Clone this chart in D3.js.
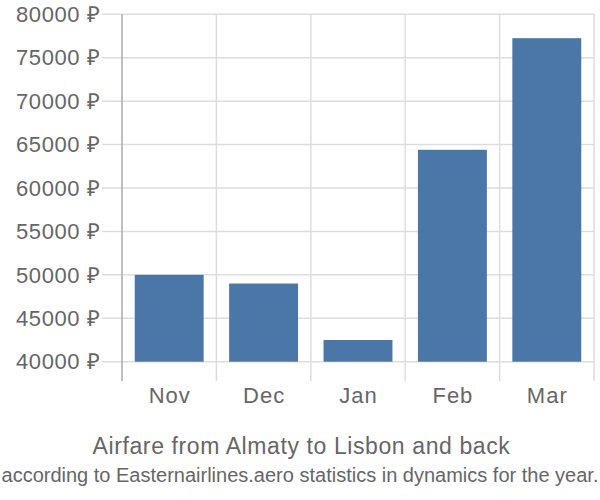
<!DOCTYPE html>
<html><head><meta charset="utf-8">
<script src="https://cdn.jsdelivr.net/npm/d3@7"></script>
<style>body{margin:0;background:#fff}svg{display:block}text{font-family:"Liberation Sans",Arial,sans-serif;fill:#666}</style>
</head><body><svg id="c" width="600" height="500"></svg>
<script>
const categories = ["Nov","Dec","Jan","Feb","Mar"];
const prices = [50000, 49000, 42500, 64400, 77250];
const yTicks = [40000,45000,50000,55000,60000,65000,70000,75000,80000];
const title = "Airfare from Almaty to Lisbon and back";
const subtitle = "according to Easternairlines.aero statistics in dynamics for the year.";

(function(){
const svg = d3.select("#c");
const pLeft = 122, pRight = 594, pTop = 14.3, pBase = 361.7, pBottom = 381;
const x = d3.scaleBand().domain(categories).range([pLeft, pRight]).paddingInner(0.27).paddingOuter(0.135);
const y = d3.scaleLinear().domain([40000, 80000]).range([pBase, pTop]);
const grid = "#dddddd";

svg.append("g").selectAll("line").data(yTicks).join("line")
  .attr("x1", 102).attr("x2", pRight).attr("y1", d=>y(d)).attr("y2", d=>y(d))
  .attr("stroke", grid).attr("stroke-width", 1.5);
const bounds = categories.map(c => x(c) - x.step()*x.paddingInner()/2).slice(1).concat([pRight]);
svg.append("g").selectAll("line").data(bounds).join("line")
  .attr("x1", d=>d).attr("x2", d=>d).attr("y1", pTop).attr("y2", pBottom)
  .attr("stroke", grid).attr("stroke-width", 1.5);
svg.append("line").attr("x1", pLeft).attr("x2", pLeft).attr("y1", pTop).attr("y2", pBottom)
  .attr("stroke", "#aaaaaa").attr("stroke-width", 1.5);

svg.append("g").selectAll("rect").data(categories).join("rect")
  .attr("x", d=>x(d)).attr("width", x.bandwidth())
  .attr("y", (d,i)=>y(prices[i])).attr("height", (d,i)=>pBase - y(prices[i]))
  .attr("fill", "#4a76a8");

svg.append("g").selectAll("text").data(yTicks).join("text")
  .attr("x", 100.5).attr("y", d=>y(d)).attr("dy", "0.35em").attr("text-anchor", "end")
  .style("font-size", "22px").style("letter-spacing", "0.6px").text(d=>d + " ₽");
svg.append("g").selectAll("text").data(categories).join("text")
  .attr("x", d=>x(d)+x.bandwidth()/2 + 0.5).attr("y", 403).attr("text-anchor", "middle")
  .style("font-size", "22px").style("letter-spacing", "1px").text(d=>d);

svg.append("text").attr("x", 301.5).attr("y", 454).attr("text-anchor", "middle")
  .style("font-size", "23px").style("letter-spacing", "0.6px").text(title);
svg.append("text").attr("x", 300).attr("y", 482).attr("text-anchor", "middle").style("font-size", "20px").text(subtitle);
})();
</script></body></html>
